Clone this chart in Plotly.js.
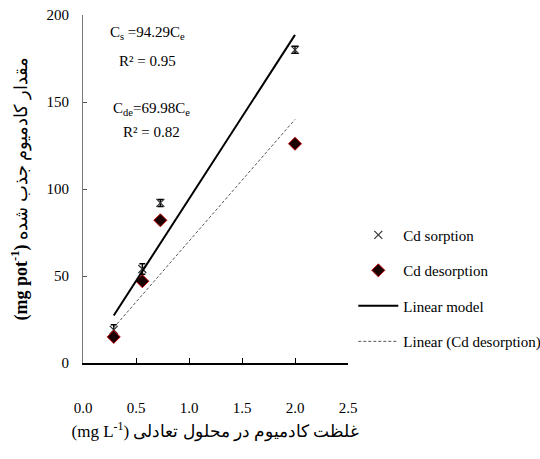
<!DOCTYPE html>
<html><head><meta charset="utf-8">
<script src="https://cdn.plot.ly/plotly-3.0.1.min.js"></script>
<style>html,body{margin:0;padding:0;background:#fff}#chart{width:540px;height:459px}</style>
</head><body><div id="chart"></div>
<script>
const ce = [0.29, 0.56, 0.73, 2.0];
const sorption = [19, 54, 92, 180];
const sorptionErr = [3, 3, 2, 2];
const desorption = [15, 47, 82, 126];
const fitX = [0.29, 2.0];
const fitSorption = [27.3, 188.6];
const fitDesorption = [20.3, 140.0];
const xTicks = [0, 0.5, 1.0, 1.5, 2.0, 2.5];
const xTickText = ['0.0', '0.5', '1.0', '1.5', '2.0', '2.5'];
const yTicks = [0, 50, 100, 150, 200];

const serif = 'Liberation Serif';
const traces = [
  {x: ce, y: sorption, type: 'scatter', mode: 'markers', name: 'Cd sorption', legendgroup: 'a',
   marker: {symbol: 'x-thin-open', size: 8, color: '#333', line: {width: 1.2, color: '#333'}},
   error_y: {type: 'data', array: sorptionErr, color: '#000', thickness: 1.5, width: 3}},
  {x: ce, y: desorption, type: 'scatter', mode: 'markers', name: 'Cd desorption', legendgroup: 'b',
   marker: {symbol: 'diamond', size: 10, color: '#1a0000', line: {width: 1, color: '#c00000'}}},
  {x: fitX, y: fitSorption, type: 'scatter', mode: 'lines', name: 'Linear model', legendgroup: 'c',
   line: {color: '#000', width: 2}},
  {x: fitX, y: fitDesorption, type: 'scatter', mode: 'lines', name: 'Linear (Cd desorption)', legendgroup: 'd',
   line: {color: '#555', width: 1, dash: '3px,2px'}}
];
const layout = {
  width: 540, height: 459,
  margin: {l: 83, r: 192, t: 15, b: 96, autoexpand: false},
  paper_bgcolor: '#fff', plot_bgcolor: '#fff',
  font: {family: serif, size: 15, color: '#000'},
  showlegend: true,
  legend: {x: 1.02, xanchor: 'left', y: 0.415, yanchor: 'top', font: {family: serif, size: 15},
           tracegroupgap: 13, itemwidth: 40, bgcolor: 'rgba(0,0,0,0)'},
  xaxis: {range: [0, 2.5], tickvals: xTicks, ticktext: xTickText, ticks: 'inside', ticklen: 5,
          tickcolor: '#000', showline: true, linecolor: '#000', linewidth: 2, showgrid: false, zeroline: false,
          ticklabelstandoff: 30, tickfont: {family: serif, size: 15},
          title: {text: '(mg L<sup>-1</sup>) غلظت کادمیوم در محلول تعادلی', font: {family: serif, size: 17}, standoff: 10}},
  yaxis: {range: [0, 200], tickvals: yTicks, ticks: 'inside', ticklen: 4, tickcolor: '#555',
          showline: true, linecolor: '#777', linewidth: 1, showgrid: false, zeroline: false,
          ticklabelstandoff: 10, tickfont: {family: serif, size: 15},
          title: {text: '<b>(mg pot<sup>-1</sup>)</b> مقدار کادمیوم جذب شده', font: {family: serif, size: 18}, standoff: 14}},
  annotations: [
    {xref: 'paper', yref: 'paper', x: 0.245, y: 0.948, xanchor: 'center', yanchor: 'middle', text: 'C<sub>s</sub> =94.29C<sub>e</sub>', showarrow: false, font: {family: serif, size: 15}},
    {xref: 'paper', yref: 'paper', x: 0.245, y: 0.868, xanchor: 'center', yanchor: 'middle', text: 'R² = 0.95', showarrow: false, font: {family: serif, size: 15}},
    {xref: 'paper', yref: 'paper', x: 0.26, y: 0.730, xanchor: 'center', yanchor: 'middle', text: 'C<sub>de</sub>=69.98C<sub>e</sub>', showarrow: false, font: {family: serif, size: 15}},
    {xref: 'paper', yref: 'paper', x: 0.26, y: 0.664, xanchor: 'center', yanchor: 'middle', text: 'R² = 0.82', showarrow: false, font: {family: serif, size: 15}}
  ]
};
Plotly.newPlot('chart', traces, layout, {displayModeBar: false});
</script>
</body></html>
